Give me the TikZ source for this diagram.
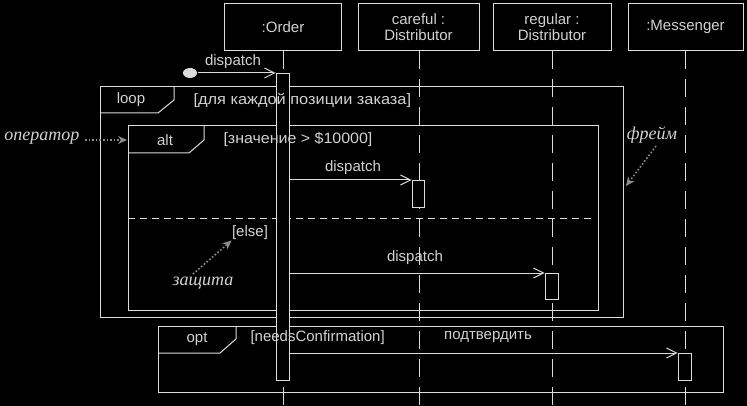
\documentclass[tikz,border=0pt]{standalone}
\usepackage{fontspec}
\setmainfont{Liberation Sans}
\newfontfamily\notefont{Liberation Serif}
\usetikzlibrary{arrows.meta,shapes.geometric}
\definecolor{ink}{HTML}{DCDCDC}
\definecolor{txt}{HTML}{D2D2D2}
\definecolor{note}{HTML}{8C8C8C}
\begin{document}
\begin{tikzpicture}[x=1pt,y=-1pt,
  line width=1pt,
  every node/.style={inner sep=0pt,text=txt,font=\fontsize{15}{17}\selectfont},
  head/.style={draw=ink,minimum height=47pt,align=center},
  life/.style={draw=ink,dash pattern=on 18pt off 10pt},
  act/.style={draw=ink,fill=black},
  frm/.style={draw=ink},
  msg/.style={draw=ink,-{Straight Barb[length=10pt,width=10pt]}},
  ann/.style={text=txt,font=\notefont\itshape\fontsize{18}{20}\selectfont},
  annarr/.style={draw=note,line width=1.6pt,dotted,-{Stealth[length=9pt,width=8pt,fill=note]}}]
\fill[black] (0,0) rectangle (747,406);
\useasboundingbox (0,0) rectangle (747,406);

% lifeline heads
\node[head,minimum width=117pt] (order) at (283,27) {:Order};
\node[head,minimum width=121pt] (careful) at (418.5,27) {careful :\\[-1pt]Distributor};
\node[head,minimum width=118pt] (regular) at (552,27) {regular :\\[-1pt]Distributor};
\node[head,minimum width=115pt] (messenger) at (685.5,27) {:Messenger};

% lifelines
\coordinate (orderEnd) at (283,406);
\coordinate (carefulEnd) at (419,406);
\coordinate (regularEnd) at (552,406);
\coordinate (messengerEnd) at (685,406);
\draw[life] (order.south) -- (orderEnd);
\draw[life] (careful.south -| carefulEnd) -- (carefulEnd);
\draw[life] (regular.south) -- (regularEnd);
\draw[life] (messenger.south -| messengerEnd) -- (messengerEnd);

% combined fragment frames
\draw[frm] (100,87) rectangle (623,317);
\draw[frm] (100,113) -- (158,113) -- (174,100) -- (174,87);
\draw[frm] (128,126) rectangle (598,310);
\draw[frm] (128,153) -- (189,153) -- (204,140) -- (204,126);
\draw[frm,dash pattern=on 7pt off 5pt] (128,219) -- (594,219);
\draw[frm] (158,326) rectangle (723,392);
\draw[frm] (158,353) -- (220,353) -- (236,339) -- (236,326);

% activations
\node[act,minimum width=13pt,minimum height=307pt,anchor=north] (actOrder) at (282.5,73) {};
\node[act,minimum width=12pt,minimum height=27pt,anchor=north] (actCareful) at (418,180) {};
\node[act,minimum width=13pt,minimum height=26pt,anchor=north] (actRegular) at (551.5,273) {};
\node[act,minimum width=13pt,minimum height=27pt,anchor=north] (actMessenger) at (684.5,353) {};

% fragment labels and guards
\node (loopTag) at (131,100) {loop};
\node[anchor=west] (loopGuard) at (193,100) {\scalebox{1.09}[1]{[для каждой позиции заказа]}};
\node (altTag) at (165,140) {alt};
\node[anchor=west] (altGuard) at (223,140) {\scalebox{1.065}[1]{[значение > \$10000]}};
\node (elseGuard) at (250,233) {[else]};
\node (optTag) at (197,339) {opt};
\node[anchor=west] (optGuard) at (250,338) {[needsConfirmation]};

% found message
\node[fill=ink,ellipse,minimum width=14pt,minimum height=10pt,draw=none] (found) at (190,73) {};
\draw[msg] (found.east) -- (actOrder.north west);
\node (m0) at (233,62) {dispatch};

% messages
\draw[msg] (actOrder.east |- actCareful.north) -- (actCareful.north west);
\node (m1) at (353,168) {dispatch};
\draw[msg] (actOrder.east |- actRegular.north) -- (actRegular.north west);
\node (m2) at (415,258) {dispatch};
\draw[msg] (actOrder.east |- actMessenger.north) -- (actMessenger.north west);
\node (m3) at (488,337) {подтвердить};

% annotations
\node[ann,anchor=west] (noteOp) at (4,138) {оператор};
\coordinate (altLeft) at (127,140);
\draw[annarr] (noteOp.east) ++(5,2) -- (altLeft);
\node[ann] (noteFrame) at (652,135) {фрейм};
\coordinate (loopRight) at (626,186);
\draw[annarr] (656,146) -- (loopRight);
\node[ann] (noteGuard) at (203,283) {защита};
\draw[annarr] (193,274) -- (elseGuard.south west);
\end{tikzpicture}
\end{document}
